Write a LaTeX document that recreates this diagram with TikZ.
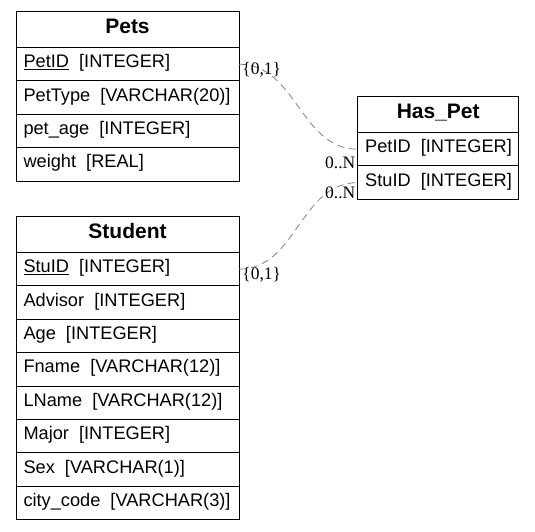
\documentclass[tikz,border=0pt]{standalone}
\usepackage{fontspec}
\setmainfont{Liberation Serif}
\setsansfont{Liberation Sans}
\usetikzlibrary{positioning}
\definecolor{linkgray}{gray}{0.5}
\newcommand{\fld}[2]{\mbox{#1\hspace{0.556em}[#2]}}
\tikzset{
  tabhead/.style={draw, line width=0.9pt, outer sep=0pt, inner xsep=7.5pt, inner ysep=0pt,
    text width=#1, align=center, minimum height=36.5pt, text height=14pt, text depth=5pt,
    font=\sffamily\bfseries\fontsize{21}{24}\selectfont},
  tabrow/.style={draw, line width=0.9pt, outer sep=0pt, inner xsep=7.5pt, inner ysep=0pt,
    text width=#1, align=left, minimum height=33.4pt, text height=12pt, text depth=5pt,
    font=\sffamily\fontsize{18.2}{21}\selectfont},
  card/.style={inner sep=0pt, text=black, font=\fontsize{17.5}{20}\selectfont},
  link/.style={linkgray, line width=0.8pt, dash pattern=on 7pt off 5pt}
}
\begin{document}
\begin{tikzpicture}[x=1pt, y=-1pt]
    \useasboundingbox (0,0) rectangle (535,531);
    % Pets
    \node[tabhead=208pt, anchor=north west] (pets-0) at (16,11) {Pets};
    \foreach \f [count=\i, remember=\i as \j (initially 0)] in
      {\fld{\underline{PetID}}{INTEGER}, \fld{PetType}{VARCHAR(20)},
       \fld{pet\_age}{INTEGER}, \fld{weight}{REAL}}
    \node[tabrow=208pt, below=0pt of pets-\j] (pets-\i) {\f};
    % Student
    \node[tabhead=208pt, anchor=north west] (stu-0) at (16,216) {Student};
    \foreach \f [count=\i, remember=\i as \j (initially 0)] in
      {\fld{\underline{StuID}}{INTEGER}, \fld{Advisor}{INTEGER}, \fld{Age}{INTEGER},
       \fld{Fname}{VARCHAR(12)}, \fld{LName}{VARCHAR(12)}, \fld{Major}{INTEGER},
       \fld{Sex}{VARCHAR(1)}, \fld{city\_code}{VARCHAR(3)}}
    \node[tabrow=208pt, below=0pt of stu-\j] (stu-\i) {\f};
    % Has_Pet
    \node[tabhead=146pt, anchor=north west] (hp-0) at (357.7,96) {Has\_Pet};
    \foreach \f [count=\i, remember=\i as \j (initially 0)] in
      {\fld{PetID}{INTEGER}, \fld{StuID}{INTEGER}}
    \node[tabrow=146pt, below=0pt of hp-\j] (hp-\i) {\f};
    % links
    \draw[link] (pets-1.east) to[out=0, in=180]
      node[card, pos=0, anchor=north west, xshift=3pt, yshift=2.5pt] {\{0,1\}}
      node[card, pos=1, anchor=north east, xshift=-2pt, yshift=-7pt] {0..N} (hp-1.west);
    \draw[link] (stu-1.east) to[out=0, in=180]
      node[card, pos=0, anchor=north west, xshift=3pt, yshift=2.5pt] {\{0,1\}}
      node[card, pos=1, anchor=north east, xshift=-2pt, yshift=-3.7pt] {0..N} (hp-2.west);
\end{tikzpicture}
\end{document}
